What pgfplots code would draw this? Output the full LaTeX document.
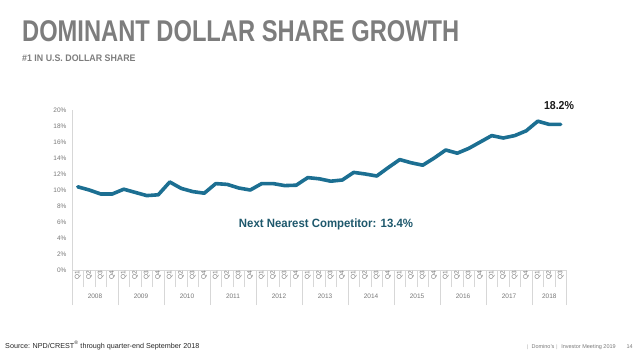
\documentclass[border=0pt]{standalone}
\usepackage{pgfplots}
\pgfplotsset{compat=1.18}
\usepackage{fontspec}
\setmainfont{Liberation Sans}
\definecolor{lineblue}{RGB}{28,111,146}
\definecolor{titlegray}{RGB}{125,125,125}
\definecolor{tickgray}{RGB}{120,120,120}
\definecolor{axisgray}{RGB}{215,215,215}
\definecolor{teal}{RGB}{30,88,108}
\begin{document}
\begin{tikzpicture}
\path[use as bounding box] (0pt,0pt) rectangle (640pt,354pt);
\node[anchor=base west, inner sep=0pt, text=titlegray] at (22pt,312pt)
  {\scalebox{0.79}[1]{\fontsize{30}{32}\selectfont\bfseries DOMINANT DOLLAR SHARE GROWTH}};
\node[anchor=base west, inner sep=0pt, text=titlegray] at (22pt,292pt)
  {\scalebox{0.93}[1]{\fontsize{9.5}{11}\selectfont\bfseries \#1 IN U.S. DOLLAR SHARE}};
\node[anchor=base west, inner sep=0pt, text=black!85] at (5pt,6pt)
  {\fontsize{7.2}{8}\selectfont Source: NPD/CREST\textsuperscript{\textregistered} through quarter-end September 2018};
\node[anchor=base east, inner sep=0pt, text=tickgray] at (633pt,6pt)
  {\fontsize{5.5}{7}\selectfont $|$\ \ Domino's\ $|$\ \ Investor Meeting 2019\qquad 14};
\begin{axis}[
  at={(72pt,84pt)}, anchor=south west,
  scale only axis, width=494.5pt, height=160pt,
  xmin=-0.5, xmax=42.5, ymin=0, ymax=20,
  axis x line*=bottom, axis y line*=left,
  axis line style={draw=axisgray, line width=0.6pt, -},
  /pgf/number format/assume math mode=true,
  ytick={0,2,...,20},
  yticklabel={\pgfmathprintnumber{\tick}\%},
  yticklabel style={font=\fontsize{6.5}{7}\selectfont, text=tickgray, xshift=-2pt},
  major tick length=0pt,
  xtick={0,...,42},
  xticklabels={Q1,Q2,Q3,Q4,Q1,Q2,Q3,Q4,Q1,Q2,Q3,Q4,Q1,Q2,Q3,Q4,Q1,Q2,Q3,Q4,Q1,Q2,Q3,Q4,Q1,Q2,Q3,Q4,Q1,Q2,Q3,Q4,Q1,Q2,Q3,Q4,Q1,Q2,Q3,Q4,Q1,Q2,Q3},
  xticklabel style={rotate=90, anchor=east, font=\fontsize{6.5}{7}\selectfont, text=tickgray, inner sep=1pt},
  minor xtick={-0.5,0.5,...,42.5},
  minor tick length=17pt,
  tick align=outside,
  minor tick style={draw=axisgray, line width=0.6pt},
  extra x ticks={-0.5,3.5,7.5,11.5,15.5,19.5,23.5,27.5,31.5,35.5,39.5,42.5},
  extra x tick labels={},
  extra x tick style={major tick length=35pt, tick style={draw=axisgray, line width=0.6pt}, grid=none},
  clip=false,
]
\addplot[lineblue, line width=3.6pt, line join=round, line cap=round] coordinates {
(0,10.4) (1,10.0) (2,9.5) (3,9.5) (4,10.1) (5,9.7) (6,9.3) (7,9.4)
(8,11.0) (9,10.2) (10,9.8) (11,9.6) (12,10.8) (13,10.7) (14,10.25) (15,10.0)
(16,10.8) (17,10.8) (18,10.55) (19,10.6) (20,11.55) (21,11.4) (22,11.1) (23,11.25)
(24,12.2) (25,12.0) (26,11.75) (27,12.8) (28,13.8) (29,13.4) (30,13.1) (31,14.0)
(32,15.0) (33,14.6) (34,15.2) (35,16.0) (36,16.8) (37,16.5) (38,16.8) (39,17.4)
(40,18.6) (41,18.2) (42,18.2)
};
\node[text=tickgray, font=\fontsize{6.5}{7}\selectfont] at (axis cs:1.5,0) [yshift=-26pt] {2008};
\node[text=tickgray, font=\fontsize{6.5}{7}\selectfont] at (axis cs:5.5,0) [yshift=-26pt] {2009};
\node[text=tickgray, font=\fontsize{6.5}{7}\selectfont] at (axis cs:9.5,0) [yshift=-26pt] {2010};
\node[text=tickgray, font=\fontsize{6.5}{7}\selectfont] at (axis cs:13.5,0) [yshift=-26pt] {2011};
\node[text=tickgray, font=\fontsize{6.5}{7}\selectfont] at (axis cs:17.5,0) [yshift=-26pt] {2012};
\node[text=tickgray, font=\fontsize{6.5}{7}\selectfont] at (axis cs:21.5,0) [yshift=-26pt] {2013};
\node[text=tickgray, font=\fontsize{6.5}{7}\selectfont] at (axis cs:25.5,0) [yshift=-26pt] {2014};
\node[text=tickgray, font=\fontsize{6.5}{7}\selectfont] at (axis cs:29.5,0) [yshift=-26pt] {2015};
\node[text=tickgray, font=\fontsize{6.5}{7}\selectfont] at (axis cs:33.5,0) [yshift=-26pt] {2016};
\node[text=tickgray, font=\fontsize{6.5}{7}\selectfont] at (axis cs:37.5,0) [yshift=-26pt] {2017};
\node[text=tickgray, font=\fontsize{6.5}{7}\selectfont] at (axis cs:41,0) [yshift=-26pt] {2018};
\end{axis}
\node[anchor=base, inner sep=0pt, text=teal] at (326pt,127pt)
  {\scalebox{0.95}[1]{\fontsize{12}{14}\selectfont\bfseries Next Nearest Competitor: 13.4\%}};
\node[anchor=base, inner sep=0pt, text=black!90] at (559pt,244pt)
  {\scalebox{0.92}[1]{\fontsize{11.5}{13}\selectfont\bfseries 18.2\%}};
\end{tikzpicture}
\end{document}
